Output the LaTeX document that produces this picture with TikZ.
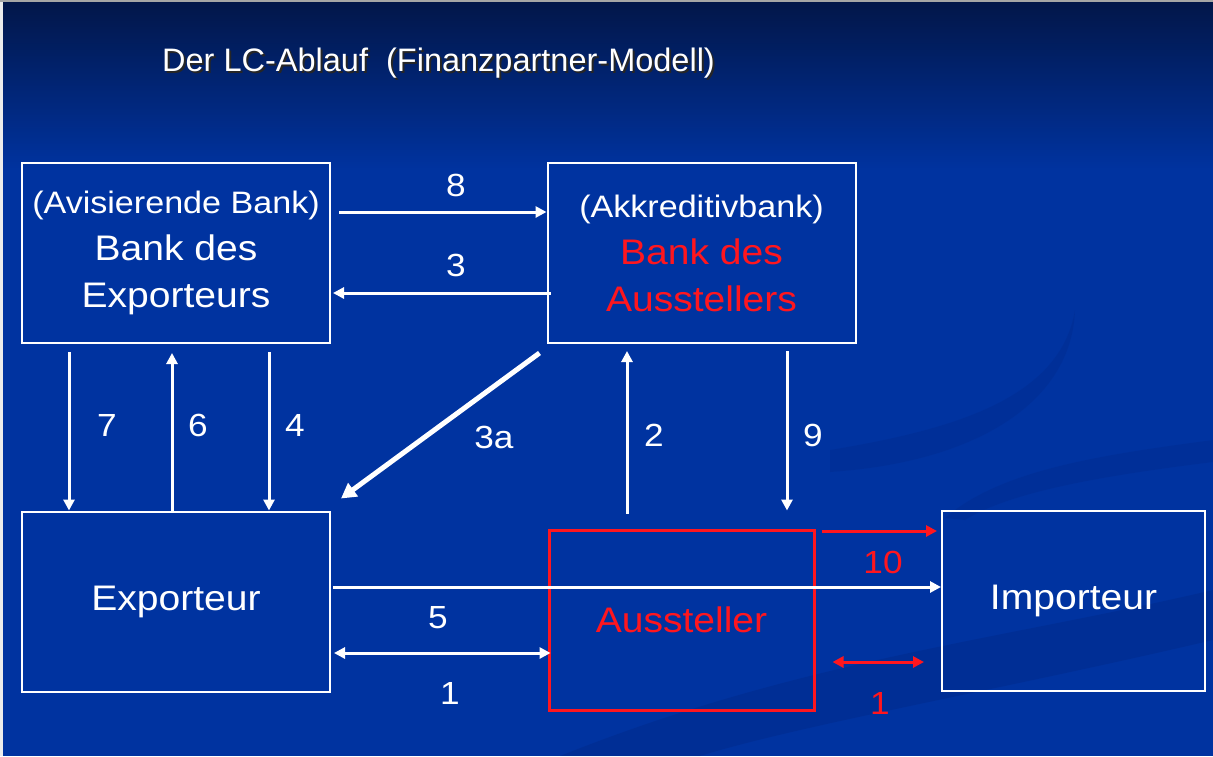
\documentclass[tikz,border=0pt]{standalone}
\usepackage{fontspec}
\setmainfont{Liberation Sans}
\usetikzlibrary{arrows.meta}
\definecolor{slideblue}{RGB}{0,51,160}
\definecolor{slidetop}{RGB}{2,22,72}
\definecolor{swoosh}{RGB}{0,34,120}
\definecolor{lcred}{RGB}{255,22,30}
\newcommand\sx[1]{\scalebox{1.1}[1]{#1}}

\tikzset{
  party/.style={draw=white, line width=2pt, minimum width=308pt, minimum height=180pt,
    inner sep=0pt, align=center, text=white, font=\fontsize{35.5}{47}\selectfont},
  issuer/.style={party, draw=lcred, line width=3pt, text=lcred, minimum width=265pt},
  flow/.style={draw=white, line width=3pt, -{Triangle[length=11pt,width=11pt]}},
  twoway/.style={flow, {Triangle[length=11pt,width=11pt]}-{Triangle[length=11pt,width=11pt]}},
  redflow/.style={flow, draw=lcred},
  redtwoway/.style={twoway, draw=lcred},
  num/.style={text=white, font=\fontsize{32}{32}\selectfont, inner sep=0pt},
  rednum/.style={num, text=lcred},
}

\begin{document}
\begin{tikzpicture}[x=1pt, y=-1pt]
  %%% background
  \useasboundingbox (0,0) rectangle (1213,756);
  \fill[slideblue] (0,0) rectangle (1213,756);
  \shade[top color=slidetop, bottom color=slideblue] (0,0) rectangle (1213,170);
  \fill[swoosh, opacity=0.25] (560,756) .. controls (800,660) and (1000,640) .. (1213,590)
    -- (1213,640) .. controls (1000,690) and (800,725) .. (700,756) -- cycle;
  \fill[swoosh, opacity=0.18] (830,450) .. controls (950,430) and (1060,400) .. (1075,310)
    .. controls (1072,400) and (980,462) .. (830,472) -- cycle;
  \fill[swoosh, opacity=0.18] (945,518) .. controls (1000,470) and (1100,455) .. (1213,440)
    -- (1213,462) .. controls (1100,476) and (1010,492) .. (965,520) -- cycle;
  \fill[white!85!gray] (0,0) rectangle (3,756);
  \fill[gray!70] (0,0) rectangle (1213,2);

  %%% title
  \node[text=black!85, font=\fontsize{32.5}{36}\selectfont, anchor=base west, inner sep=0pt]
    (titleshadow) at (164,73) {Der LC-Ablauf\ \ (Finanzpartner-Modell)};
  \node[text=white, font=\fontsize{32.5}{36}\selectfont, anchor=base west, inner sep=0pt]
    (title) at (162,71) {Der LC-Ablauf\ \ (Finanzpartner-Modell)};

  %%% parties
  \node[party] (bex) at (176,253)
    {{\fontsize{31}{47}\selectfont\sx{(Avisierende Bank)}}\\\sx{Bank des}\\\sx{Exporteurs}};
  \node[party] (bak) at (701.5,253)
    {{\fontsize{31}{47}\selectfont\sx{(Akkreditivbank)}}\\\textcolor{lcred}{\sx{Bank des}}\\\textcolor{lcred}{\sx{Ausstellers}}};
  \node[party] (exp) at (176,601.5) {\sx{Exporteur}};
  \node[issuer] (aus) at (681.5,620) {\sx{Aussteller}};
  \node[party, minimum width=263pt] (imp) at (1073.5,600.5) {\sx{Importeur}};

  %%% flows
  \draw[flow] ([shift={(8,-41)}]bex.east) -- ([shift={(0,-41)}]bak.west);
  \draw[flow] ([shift={(4,40)}]bak.west) -- ([shift={(2,40)}]bex.east);
  \draw[flow, line width=5pt, -{Triangle[length=15pt,width=16pt]}]
    ([shift={(-7,9)}]bak.south west) -- ([shift={(10,-12)}]exp.north east);
  \draw[flow] ([shift={(48,8)}]bex.south west) -- ([shift={(48,0)}]exp.north west);
  \draw[flow] ([xshift=-4]exp.north) -- ([shift={(-4,9)}]bex.south);
  \draw[flow] ([shift={(248,8)}]bex.south west) -- ([shift={(248,0)}]exp.north west);
  \draw[flow] ([shift={(-54.5,-15)}]aus.north) -- ([shift={(-74.5,7)}]bak.south);
  \draw[flow] ([shift={(85.5,7)}]bak.south) -- ([shift={(105.5,-18)}]aus.north);
  \draw[flow] ([shift={(2,-14.5)}]exp.east) -- ([shift={(0,-13.5)}]imp.west);
  \draw[twoway] ([shift={(3,51.5)}]exp.east) -- ([shift={(3,33)}]aus.west);
  \draw[redflow] ([shift={(6,-89)}]aus.east) -- ([shift={(-4,-69.5)}]imp.west);
  \draw[redtwoway] ([shift={(17,42)}]aus.east) -- ([shift={(-17,61.5)}]imp.west);

  %%% step numbers
  \node[num] (n8) at (456,185) {\sx{8}};
  \node[num] (n3) at (456,265) {\sx{3}};
  \node[num] (n3a) at (494,437) {\sx{3a}};
  \node[num] (n7) at (107,425) {\sx{7}};
  \node[num] (n6) at (198,425) {\sx{6}};
  \node[num] (n4) at (295,425) {\sx{4}};
  \node[num] (n2) at (654,435) {\sx{2}};
  \node[num] (n9) at (813,435) {\sx{9}};
  \node[num] (n5) at (438,618) {\sx{5}};
  \node[num] (n1) at (450,693) {\sx{1}};
  \node[rednum] (n10) at (883,562) {\sx{10}};
  \node[rednum] (n1r) at (880,703) {\sx{1}};
\end{tikzpicture}
\end{document}
